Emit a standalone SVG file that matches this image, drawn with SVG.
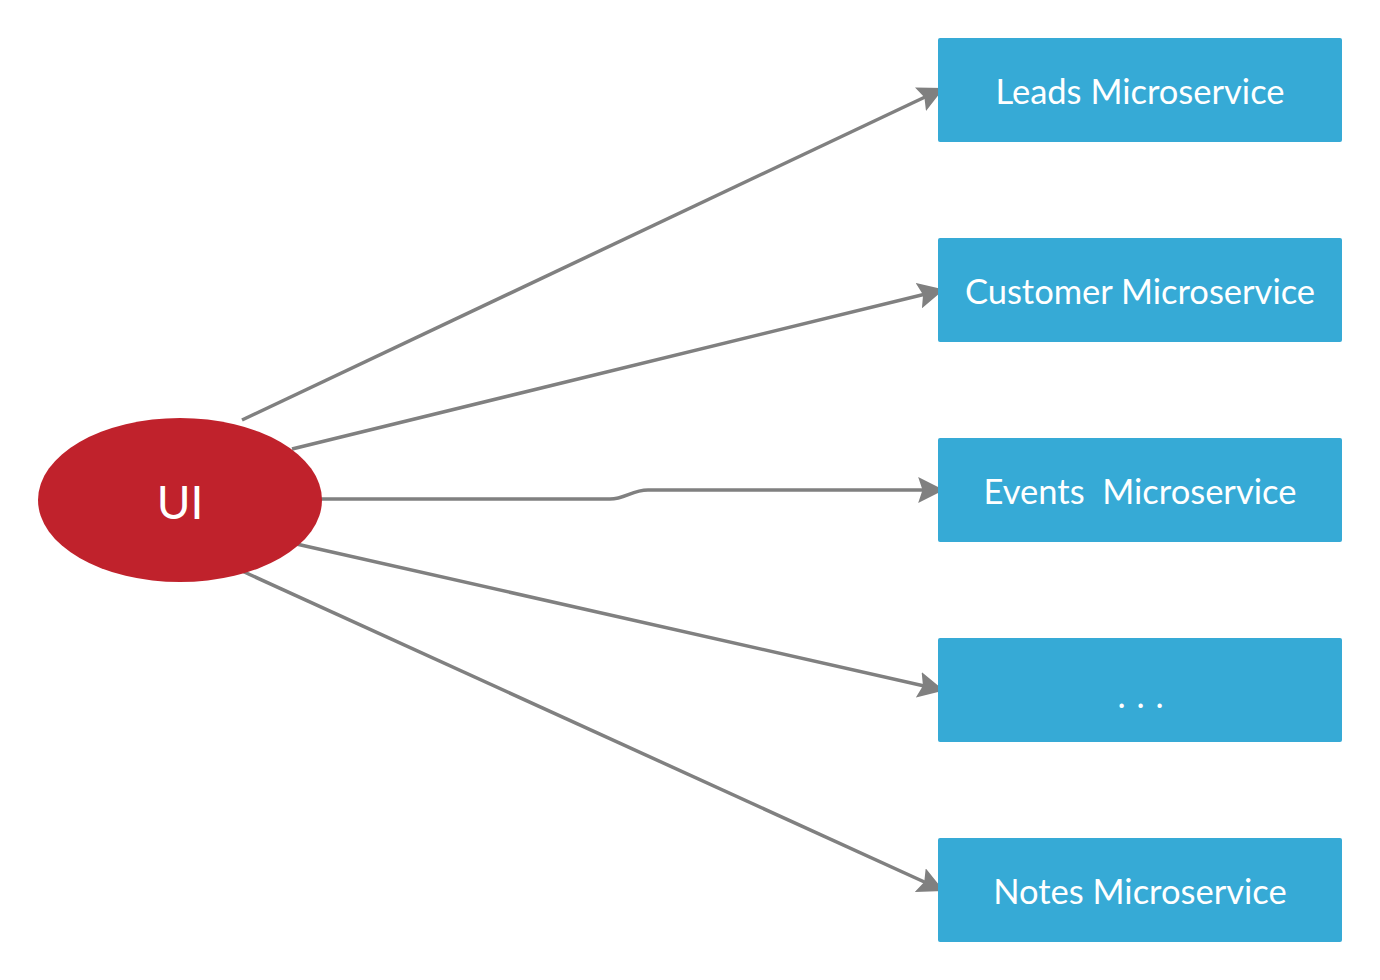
<svg xmlns="http://www.w3.org/2000/svg" width="1380" height="980" viewBox="0 0 1380 980">
<defs>
<style>
.box{fill:#36aad6;}
.lbl{font-family:Lato,"Liberation Sans",sans-serif;font-size:34.5px;fill:#ffffff;text-anchor:middle;}
.edge{fill:none;stroke:#808080;stroke-width:3.5;}
</style>
<marker id="arr" viewBox="0 0 24 24" refX="22" refY="12" markerWidth="26" markerHeight="26" markerUnits="userSpaceOnUse" orient="auto">
<path d="M0,0 L24,12 L0,24 L4,12 Z" fill="#808080"/>
</marker>
</defs>
<rect width="1380" height="980" fill="#ffffff"/>
<g id="connectors">
<path class="edge" d="M242,420 L942,89" marker-end="url(#arr)"/>
<path class="edge" d="M292,449 L942,290" marker-end="url(#arr)"/>
<path class="edge" d="M320,499 L610,499 C625,499 632,490 648,490 L942,490" marker-end="url(#arr)"/>
<path class="edge" d="M292,543 L942,690" marker-end="url(#arr)"/>
<path class="edge" d="M242,571 L942,890" marker-end="url(#arr)"/>
</g>
<g id="ui">
<ellipse cx="180" cy="500" rx="142" ry="82" fill="#c0222c"/>
<text x="180" y="519" font-family="Lato,'Liberation Sans',sans-serif" font-size="46" fill="#ffffff" text-anchor="middle">UI</text>
</g>
<g id="leads">
<rect class="box" x="938" y="38" width="404" height="104" rx="2"/>
<text class="lbl" x="1140" y="104">Leads Microservice</text>
</g>
<g id="customer">
<rect class="box" x="938" y="238" width="404" height="104" rx="2"/>
<text class="lbl" x="1140" y="304">Customer Microservice</text>
</g>
<g id="events">
<rect class="box" x="938" y="438" width="404" height="104" rx="2"/>
<text class="lbl" x="1140" y="504" xml:space="preserve">Events  Microservice</text>
</g>
<g id="more">
<rect class="box" x="938" y="638" width="404" height="104" rx="2"/>
<text class="lbl" x="1141" y="708" letter-spacing="1">. . .</text>
</g>
<g id="notes">
<rect class="box" x="938" y="838" width="404" height="104" rx="2"/>
<text class="lbl" x="1140" y="904">Notes Microservice</text>
</g>
</svg>
